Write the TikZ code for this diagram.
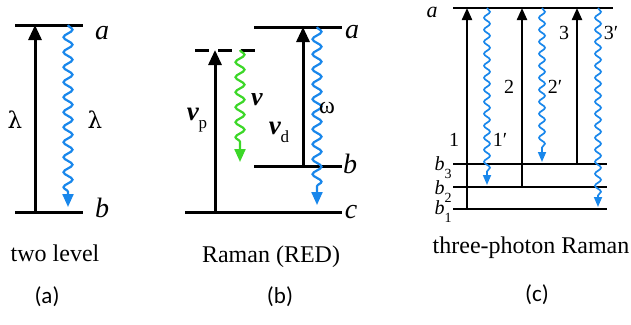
\documentclass[tikz,border=0pt]{standalone}
\usepackage{fontspec}
\setmainfont{Liberation Serif}
\newfontfamily\capfont{Carlito}
\newfontfamily\lamfont{DejaVu Serif}
\usetikzlibrary{decorations.pathmorphing,arrows.meta}
\definecolor{wblue}{RGB}{25,135,235}
\definecolor{wgreen}{RGB}{60,215,40}
\tikzset{
  lvl/.style={line width=3pt},
  thinlvl/.style={line width=1.6pt},
  uparr/.style={line width=3pt,-{Triangle[length=15pt,width=13pt]}},
  thinuparr/.style={line width=2.2pt,-{Triangle[length=12pt,width=10pt]}},
  wave/.style={line width=2.2pt,decorate,
    decoration={snake,amplitude=4.5pt,segment length=15pt,post length=13pt},
    -{Triangle[length=13pt,width=11pt]}},
  thinwave/.style={line width=1.7pt,decorate,
    decoration={snake,amplitude=3pt,segment length=12pt,post length=10pt},
    -{Triangle[length=10pt,width=8pt]}},
  lab/.style={font=\fontsize{28}{30}\selectfont\itshape,inner sep=0pt},
  num/.style={font=\fontsize{20}{22}\selectfont,inner sep=0pt},
  captxt/.style={font=\fontsize{24}{26}\selectfont,inner sep=0pt},
  pcap/.style={font=\capfont\fontsize{23}{25}\selectfont,inner sep=0pt},
}
\begin{document}
\begin{tikzpicture}[x=1pt,y=-1pt]
\useasboundingbox (0,0) rectangle (631,324);
% ---------- (a)
\coordinate (aTL) at (15,25); \coordinate (aTR) at (83,25);
\coordinate (aBL) at (15,212); \coordinate (aBR) at (83,212);
\coordinate (aA0) at (35,212); \coordinate (aA1) at (35,25);
\coordinate (aW0) at (68,25); \coordinate (aW1) at (68,207);
\draw[lvl] (aTL) -- (aTR);
\draw[lvl] (aBL) -- (aBR);
\draw[uparr] (aA0) -- (aA1);
\draw[wave,wblue] (aW0) -- (aW1);
\node[lab] (la) at (102,33) {a};
\node[lab] (lb) at (102,208) {b};
\node[lab,font=\lamfont\fontsize{23}{26}\selectfont] (l1) at (15,120) {λ};
\node[lab,font=\lamfont\fontsize{23}{26}\selectfont] (l2) at (95,120) {λ};
\node[captxt] (ca) at (55,253) {two level};
\node[pcap] (pa) at (47,297) {(a)};
% ---------- (b)
\coordinate (bAL) at (254,27); \coordinate (bAR) at (342,27);
\coordinate (bVL) at (195,50); \coordinate (bVR) at (260,50);
\coordinate (bBL) at (254,166); \coordinate (bBR) at (342,166);
\coordinate (bCL) at (185,212); \coordinate (bCR) at (342,212);
\coordinate (bP0) at (215,212); \coordinate (bP1) at (215,50);
\coordinate (bG0) at (240,50); \coordinate (bG1) at (240,162);
\coordinate (bD0) at (303,166); \coordinate (bD1) at (303,27);
\coordinate (bW0) at (317,27); \coordinate (bW1) at (317,205);
\draw[lvl] (bAL) -- (bAR);
\draw[lvl,dash pattern=on 14pt off 9pt] (bVL) -- (bVR);
\draw[lvl] (bBL) -- (bBR);
\draw[lvl] (bCL) -- (bCR);
\draw[uparr] (bP0) -- (bP1);
\draw[uparr] (bD0) -- (bD1);
\draw[wave,wgreen] (bG0) -- (bG1);
\draw[wave,wblue] (bW0) -- (bW1);
\node[lab,font=\fontsize{26}{28}\selectfont\itshape\bfseries] (nu) at (257,100) {ν};
\node[lab,font=\fontsize{27}{28}\selectfont\itshape\bfseries] (nup) at (197,120) {ν\raisebox{-8pt}{\fontsize{17}{18}\selectfont\upshape\mdseries p}};
\node[lab,font=\fontsize{27}{28}\selectfont\itshape\bfseries] (nud) at (279,132) {ν\raisebox{-8pt}{\fontsize{17}{18}\selectfont\upshape\mdseries d}};
\node[num,font=\fontsize{24}{26}\selectfont] (om) at (327,108) {ω};
\node[lab] (lba) at (352,32) {a};
\node[lab] (lbb) at (350,164) {b};
\node[lab] (lbc) at (351,212) {c};
\node[captxt] (cb) at (271,257) {Raman (RED)};
\node[pcap] (pb) at (280,297) {(b)};
% ---------- (c)
\coordinate (cAL) at (453,8); \coordinate (cAR) at (613,8);
\coordinate (c3L) at (453,164); \coordinate (c3R) at (607,164);
\coordinate (c2L) at (453,187); \coordinate (c2R) at (607,187);
\coordinate (c1L) at (453,209); \coordinate (c1R) at (607,209);
\draw[thinlvl] (cAL) -- (cAR);
\draw[thinlvl] (c3L) -- (c3R);
\draw[thinlvl] (c2L) -- (c2R);
\draw[thinlvl] (c1L) -- (c1R);
\coordinate (k10) at (467,209); \coordinate (k11) at (467,8);
\coordinate (k20) at (522,187); \coordinate (k21) at (522,8);
\coordinate (k30) at (577,164); \coordinate (k31) at (577,8);
\coordinate (w10) at (487,8); \coordinate (w11) at (487,185);
\coordinate (w20) at (542,8); \coordinate (w21) at (542,162);
\coordinate (w30) at (598,8); \coordinate (w31) at (598,207);
\draw[thinuparr] (k10) -- (k11);
\draw[thinuparr] (k20) -- (k21);
\draw[thinuparr] (k30) -- (k31);
\draw[thinwave,wblue] (w10) -- (w11);
\draw[thinwave,wblue] (w20) -- (w21);
\draw[thinwave,wblue] (w30) -- (w31);
\node[num] (n1) at (454,140) {1};
\node[num] (n1p) at (500,140) {1′};
\node[num] (n2) at (509,87) {2};
\node[num] (n2p) at (555,87) {2′};
\node[num] (n3) at (564,33) {3};
\node[num] (n3p) at (611,33) {3′};
\node[lab,font=\fontsize{22}{24}\selectfont\itshape] (lca) at (432,12) {a};
\node[lab,font=\fontsize{20}{22}\selectfont\itshape] (b3) at (443,168) {b\raisebox{-8pt}{\upshape\fontsize{14}{16}\selectfont 3}};
\node[lab,font=\fontsize{20}{22}\selectfont\itshape] (b2) at (443,192) {b\raisebox{-8pt}{\upshape\fontsize{14}{16}\selectfont 2}};
\node[lab,font=\fontsize{20}{22}\selectfont\itshape] (b1) at (443,212) {b\raisebox{-8pt}{\upshape\fontsize{14}{16}\selectfont 1}};
\node[captxt] (cc) at (531,248) {three-photon Raman};
\node[pcap] (pc) at (537,295) {(c)};
\end{tikzpicture}
\end{document}
